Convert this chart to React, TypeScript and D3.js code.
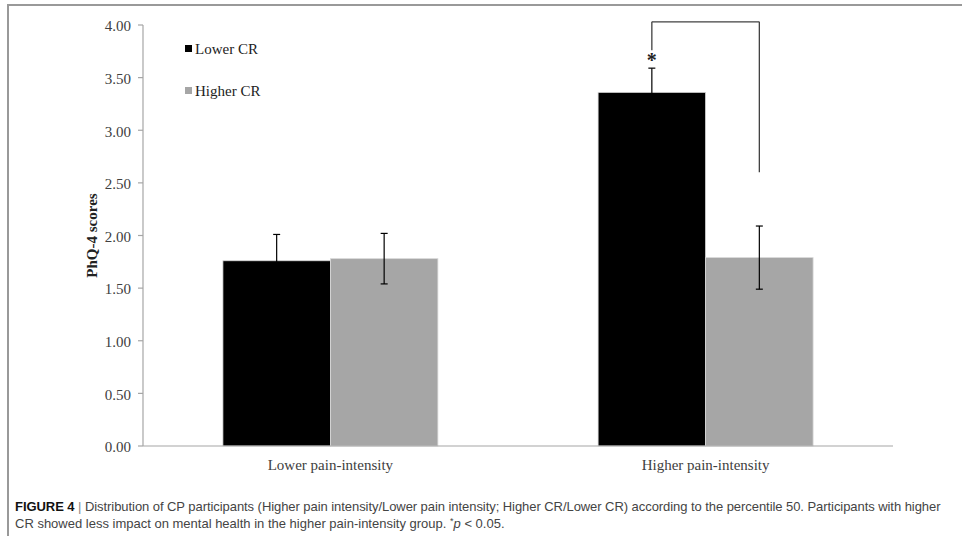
import { useMemo } from "react";
import * as d3 from "d3";

const categories = ["Lower pain-intensity", "Higher pain-intensity"];
const seriesNames = ["Lower CR", "Higher CR"];
const seriesColors = ["#000000", "#a6a6a6"];
const lowerCRMeans = [1.76, 3.36];
const lowerCRErrors = [0.25, 0.23];
const higherCRMeans = [1.78, 1.79];
const higherCRErrors = [0.24, 0.3];
const yTickValues = [0, 0.5, 1, 1.5, 2, 2.5, 3, 3.5, 4];

// significance bracket, in data units
const bracketTop = 4.03;
const bracketLeftEnd = 3.76;
const bracketRightEnd = 2.6;
const starValue = 3.6;

const captionLine1 =
  " Distribution of CP participants (Higher pain intensity/Lower pain intensity; Higher CR/Lower CR) according to the percentile 50. Participants with higher";
const captionLine2a = "CR showed less impact on mental health in the higher pain-intensity group. ";

const W = 962;
const H = 536;
const margin = { top: 25, right: 69, bottom: 90, left: 143 };

export default function App() {
  const innerWidth = W - margin.left - margin.right;
  const innerHeight = H - margin.top - margin.bottom;

  const x0 = useMemo(
    () => d3.scaleBand<string>().domain(categories).range([0, innerWidth]).paddingInner(0.427).paddingOuter(0.213),
    [innerWidth]
  );
  const x1 = useMemo(
    () => d3.scaleBand<string>().domain(seriesNames).range([0, x0.bandwidth()]),
    [x0]
  );
  const y = useMemo(
    () => d3.scaleLinear().domain([0, 4]).range([innerHeight, 0]),
    [innerHeight]
  );

  const series = [
    { name: seriesNames[0], means: lowerCRMeans, errs: lowerCRErrors, color: seriesColors[0] },
    { name: seriesNames[1], means: higherCRMeans, errs: higherCRErrors, color: seriesColors[1] },
  ];

  const serif = "'Liberation Serif', 'Times New Roman', serif";
  const sans = "'Liberation Sans', Arial, sans-serif";
  const axisColor = "#a6a6a6";

  const leftBarCenter = x0(categories[1])! + x1(seriesNames[0])! + x1.bandwidth() / 2;
  const rightBarCenter = x0(categories[1])! + x1(seriesNames[1])! + x1.bandwidth() / 2;

  return (
    <svg
      width={W}
      height={H}
      style={{ position: "absolute", left: 0, top: 0, background: "#fff" }}
    >
      {/* frame */}
      <line x1={8} x2={W} y1={5} y2={5} stroke="#999" strokeWidth={2} />
      <line x1={8} x2={8} y1={4} y2={H} stroke="#999" strokeWidth={2} />

      <g transform={`translate(${margin.left}, ${margin.top})`}>
        {/* bars */}
        {series.map((s) =>
          categories.map((c, i) => (
            <rect
              key={`${s.name}-${c}`}
              x={x0(c)! + x1(s.name)!}
              y={y(s.means[i])}
              width={x1.bandwidth()}
              height={innerHeight - y(s.means[i])}
              fill={s.color}
              stroke="#d9d9d9"
              strokeWidth={0.8}
            />
          ))
        )}

        {/* error bars */}
        {series.map((s) =>
          categories.map((c, i) => {
            const cx = x0(c)! + x1(s.name)! + x1.bandwidth() / 2;
            const top = y(s.means[i] + s.errs[i]);
            const bot = y(s.means[i] - s.errs[i]);
            return (
              <g key={`err-${s.name}-${c}`} stroke="#000" strokeWidth={1.2}>
                <line x1={cx} x2={cx} y1={top} y2={bot} />
                <line x1={cx - 3.5} x2={cx + 3.5} y1={top} y2={top} />
                <line x1={cx - 3.5} x2={cx + 3.5} y1={bot} y2={bot} />
              </g>
            );
          })
        )}

        {/* y axis */}
        <line x1={0} x2={0} y1={0} y2={innerHeight} stroke={axisColor} strokeWidth={1.2} />
        {yTickValues.map((t) => (
          <g key={t} transform={`translate(0, ${y(t)})`}>
            <line x1={-5} x2={0} stroke={axisColor} strokeWidth={1.2} />
            <text
              x={-12}
              dy="0.42em"
              textAnchor="end"
              fontFamily={serif}
              fontSize={15}
              fill="#404040"
            >
              {d3.format(".2f")(t)}
            </text>
          </g>
        ))}
        <text
          transform={`translate(-46, ${innerHeight / 2}) rotate(-90)`}
          textAnchor="middle"
          fontFamily={serif}
          fontWeight="bold"
          fontSize={15}
          fill="#222"
        >
          PhQ-4 scores
        </text>

        {/* x axis */}
        <line x1={0} x2={innerWidth} y1={innerHeight} y2={innerHeight} stroke={axisColor} strokeWidth={1.2} />
        {categories.map((c) => (
          <text
            key={c}
            x={x0(c)! + x0.bandwidth() / 2}
            y={innerHeight + 24}
            textAnchor="middle"
            fontFamily={serif}
            fontSize={15}
            fill="#404040"
          >
            {c}
          </text>
        ))}

        {/* significance bracket */}
        <g stroke="#404040" strokeWidth={1.3} fill="none">
          <line x1={leftBarCenter} x2={leftBarCenter} y1={y(bracketTop)} y2={y(bracketLeftEnd)} />
          <line x1={leftBarCenter} x2={rightBarCenter} y1={y(bracketTop)} y2={y(bracketTop)} />
          <line x1={rightBarCenter} x2={rightBarCenter} y1={y(bracketTop)} y2={y(bracketRightEnd)} />
        </g>
        <text
          x={leftBarCenter}
          y={y(starValue)}
          textAnchor="middle"
          fontFamily={serif}
          fontSize={20}
          fontWeight="bold"
          fill="#222"
        >
          *
        </text>

        {/* legend */}
        {series.map((s, i) => (
          <g key={`leg-${s.name}`} transform={`translate(42, ${24 + i * 42})`}>
            <rect x={0} y={-4} width={7} height={7} fill={s.color} />
            <text x={10} y={0} dy="0.35em" fontFamily={serif} fontSize={15} fill="#222">
              {s.name}
            </text>
          </g>
        ))}
      </g>

      {/* caption */}
      <text x={15} y={511} fontFamily={sans} fontSize={13} fill="#444" letterSpacing={-0.06}>
        <tspan fontWeight="bold" fill="#111">FIGURE 4</tspan>
        <tspan fill="#888"> |</tspan>
        <tspan>{captionLine1}</tspan>
      </text>
      <text x={15} y={528} fontFamily={sans} fontSize={13} fill="#444">
        <tspan>{captionLine2a}</tspan>
        <tspan fontSize={9} dy={-4}>*</tspan>
        <tspan fontStyle="italic" dy={4}>p</tspan>
        <tspan>{" < 0.05."}</tspan>
      </text>
    </svg>
  );
}
